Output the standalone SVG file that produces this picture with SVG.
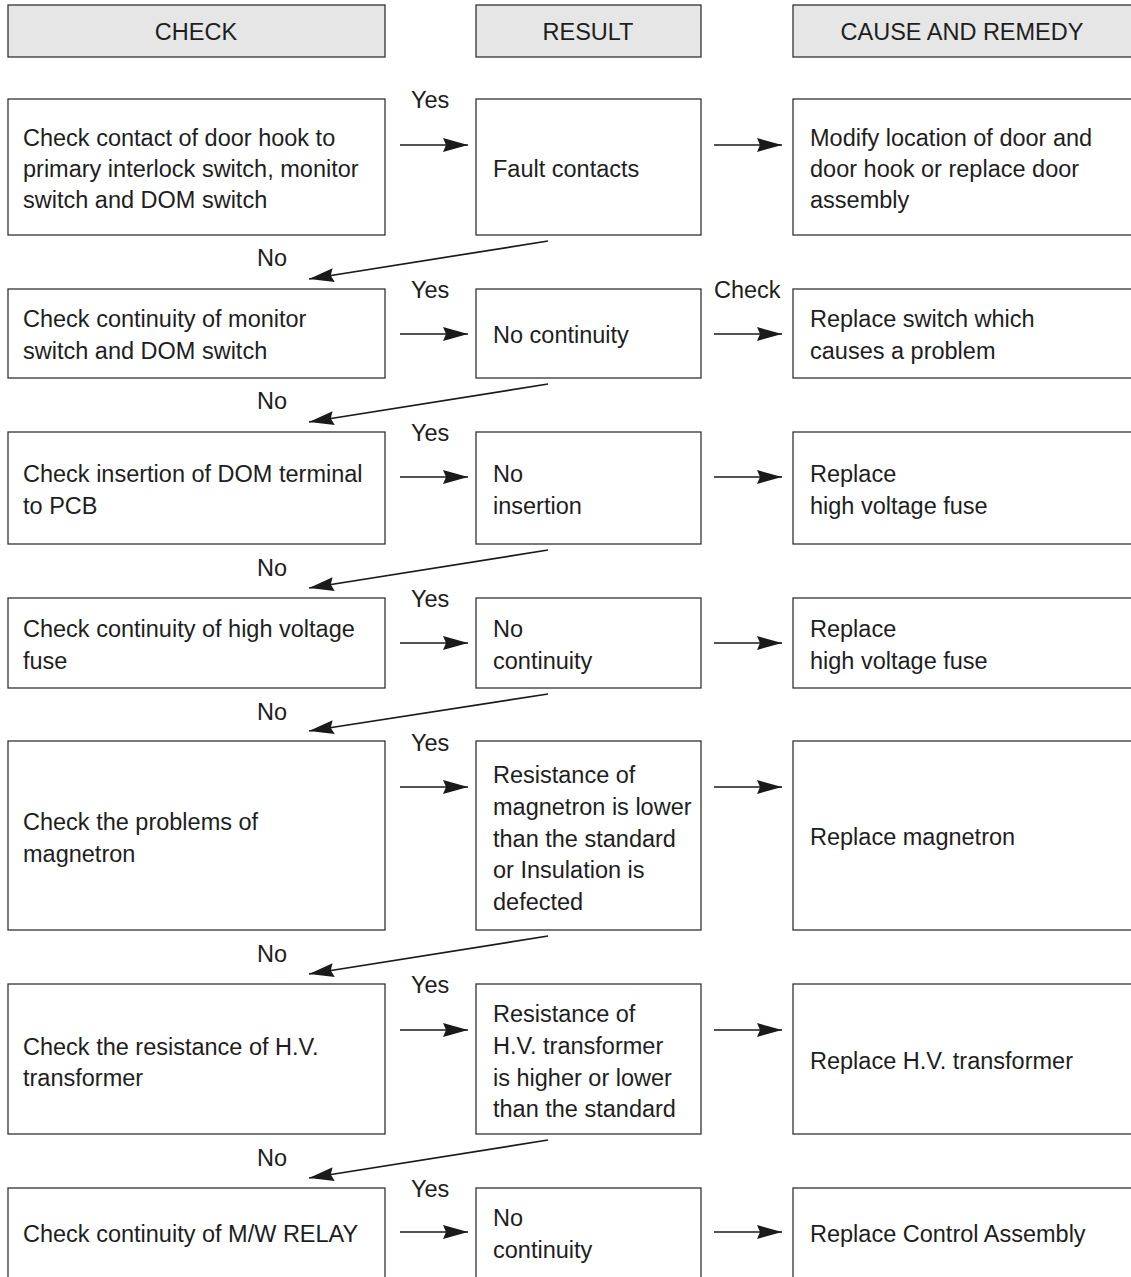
<svg xmlns="http://www.w3.org/2000/svg" width="1131" height="1277" viewBox="0 0 1131 1277">
<defs>
<marker id="ah" markerUnits="userSpaceOnUse" markerWidth="28" markerHeight="18" refX="25" refY="8" orient="auto">
<path d="M0,1 L25,8 L0,15 L3,8 Z" fill="#1a1a1a"/>
</marker>
<style>
.box{fill:#fff;stroke:#333;stroke-width:1.3}
.hdr{fill:#e6e6e6;stroke:#333;stroke-width:1.3}
text{font-family:"Liberation Sans",Arial,sans-serif;font-size:23.5px;fill:#1e1e1e}
.c{text-anchor:middle}
.conn line{stroke:#1a1a1a;stroke-width:1.7;marker-end:url(#ah)}
</style>
</defs>
<rect width="1131" height="1277" fill="#fff"/>

<g id="header">
<rect class="hdr" x="8" y="5" width="377" height="52"/>
<text class="c" x="196" y="40">CHECK</text>
<rect class="hdr" x="476" y="5" width="225" height="52"/>
<text class="c" x="588" y="40">RESULT</text>
<rect class="hdr" x="793" y="5" width="350" height="52"/>
<text class="c" x="962" y="40">CAUSE AND REMEDY</text>
</g>

<g id="check1"><rect class="box" x="8" y="99" width="377" height="136"/>
<text x="23" y="146">Check contact of door hook to</text><text x="23" y="177">primary interlock switch, monitor</text><text x="23" y="208">switch and DOM switch</text></g>
<g id="result1"><rect class="box" x="476" y="99" width="225" height="136"/>
<text x="493" y="177">Fault contacts</text></g>
<g id="remedy1"><rect class="box" x="793" y="99" width="350" height="136"/>
<text x="810" y="146">Modify location of door and</text><text x="810" y="177">door hook or replace door</text><text x="810" y="208">assembly</text></g>

<g id="check2"><rect class="box" x="8" y="289" width="377" height="89"/>
<text x="23" y="327">Check continuity of monitor</text><text x="23" y="359">switch and DOM switch</text></g>
<g id="result2"><rect class="box" x="476" y="289" width="225" height="89"/>
<text x="493" y="343">No continuity</text></g>
<g id="remedy2"><rect class="box" x="793" y="289" width="350" height="89"/>
<text x="810" y="327">Replace switch which</text><text x="810" y="359">causes a problem</text></g>

<g id="check3"><rect class="box" x="8" y="432" width="377" height="112"/>
<text x="23" y="482">Check insertion of DOM terminal</text><text x="23" y="514">to PCB</text></g>
<g id="result3"><rect class="box" x="476" y="432" width="225" height="112"/>
<text x="493" y="482">No</text><text x="493" y="514">insertion</text></g>
<g id="remedy3"><rect class="box" x="793" y="432" width="350" height="112"/>
<text x="810" y="482">Replace</text><text x="810" y="514">high voltage fuse</text></g>

<g id="check4"><rect class="box" x="8" y="598" width="377" height="90"/>
<text x="23" y="637">Check continuity of high voltage</text><text x="23" y="669">fuse</text></g>
<g id="result4"><rect class="box" x="476" y="598" width="225" height="90"/>
<text x="493" y="637">No</text><text x="493" y="669">continuity</text></g>
<g id="remedy4"><rect class="box" x="793" y="598" width="350" height="90"/>
<text x="810" y="637">Replace</text><text x="810" y="669">high voltage fuse</text></g>

<g id="check5"><rect class="box" x="8" y="741" width="377" height="189"/>
<text x="23" y="830">Check the problems of</text><text x="23" y="862">magnetron</text></g>
<g id="result5"><rect class="box" x="476" y="741" width="225" height="189"/>
<text x="493" y="783">Resistance of</text><text x="493" y="815">magnetron is lower</text><text x="493" y="847">than the standard</text><text x="493" y="878">or Insulation is</text><text x="493" y="910">defected</text></g>
<g id="remedy5"><rect class="box" x="793" y="741" width="350" height="189"/>
<text x="810" y="845">Replace magnetron</text></g>

<g id="check6"><rect class="box" x="8" y="984" width="377" height="150"/>
<text x="23" y="1055">Check the resistance of H.V.</text><text x="23" y="1086">transformer</text></g>
<g id="result6"><rect class="box" x="476" y="984" width="225" height="150"/>
<text x="493" y="1022">Resistance of</text><text x="493" y="1054">H.V. transformer</text><text x="493" y="1086">is higher or lower</text><text x="493" y="1117">than the standard</text></g>
<g id="remedy6"><rect class="box" x="793" y="984" width="350" height="150"/>
<text x="810" y="1069">Replace H.V. transformer</text></g>

<g id="check7"><rect class="box" x="8" y="1188" width="377" height="120"/>
<text x="23" y="1242">Check continuity of M/W RELAY</text></g>
<g id="result7"><rect class="box" x="476" y="1188" width="225" height="120"/>
<text x="493" y="1226">No</text><text x="493" y="1258">continuity</text></g>
<g id="remedy7"><rect class="box" x="793" y="1188" width="350" height="120"/>
<text x="810" y="1242">Replace Control Assembly</text></g>

<g id="connectors" class="conn">
<line x1="400" y1="145" x2="468" y2="145"/><line x1="714" y1="145" x2="782" y2="145"/>
<line x1="400" y1="334" x2="468" y2="334"/><line x1="714" y1="334" x2="782" y2="334"/>
<line x1="400" y1="477" x2="468" y2="477"/><line x1="714" y1="477" x2="782" y2="477"/>
<line x1="400" y1="643" x2="468" y2="643"/><line x1="714" y1="643" x2="782" y2="643"/>
<line x1="400" y1="787" x2="468" y2="787"/><line x1="714" y1="787" x2="782" y2="787"/>
<line x1="400" y1="1030" x2="468" y2="1030"/><line x1="714" y1="1030" x2="782" y2="1030"/>
<line x1="400" y1="1232" x2="468" y2="1232"/><line x1="714" y1="1232" x2="782" y2="1232"/>
<line x1="548" y1="241" x2="309" y2="279"/>
<line x1="548" y1="384" x2="309" y2="422"/>
<line x1="548" y1="550" x2="309" y2="588"/>
<line x1="548" y1="694" x2="309" y2="731"/>
<line x1="548" y1="936" x2="309" y2="974"/>
<line x1="548" y1="1140" x2="309" y2="1178"/>
</g>

<g id="labels">
<text x="411" y="108">Yes</text>
<text x="411" y="298">Yes</text>
<text x="714" y="298">Check</text>
<text x="411" y="441">Yes</text>
<text x="411" y="607">Yes</text>
<text x="411" y="751">Yes</text>
<text x="411" y="993">Yes</text>
<text x="411" y="1197">Yes</text>
<text x="257" y="266">No</text>
<text x="257" y="409">No</text>
<text x="257" y="576">No</text>
<text x="257" y="720">No</text>
<text x="257" y="962">No</text>
<text x="257" y="1166">No</text>
</g>
</svg>
